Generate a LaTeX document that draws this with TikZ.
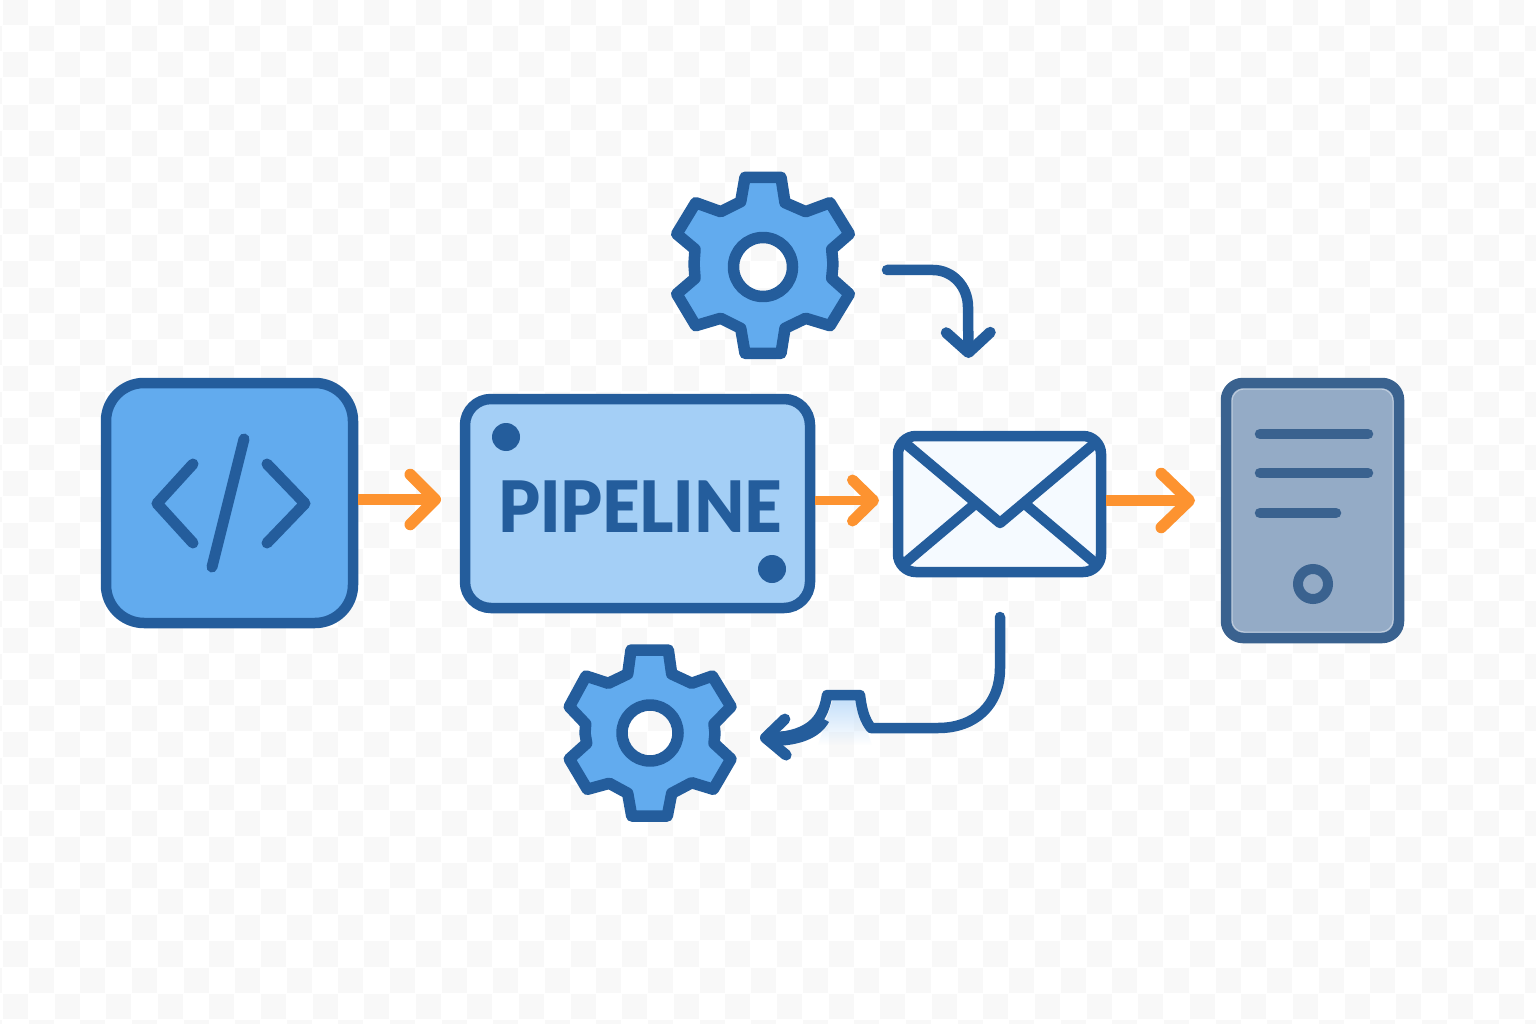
\documentclass[tikz,border=0pt]{standalone}
\usepackage{fontspec}
\newfontfamily\platefont{Lato Black}
\usetikzlibrary{arrows.meta,fadings}
\definecolor{ink}{HTML}{245D9C}
\definecolor{sky}{HTML}{62ABEE}
\definecolor{pale}{HTML}{A4CFF6}
\definecolor{paper}{HTML}{F5FAFF}
\definecolor{slate}{HTML}{3A628F}
\definecolor{mist}{HTML}{94ABC6}
\definecolor{flow}{HTML}{FD9330}
\definecolor{tile}{HTML}{F8F8F8}
\definecolor{glow}{HTML}{C4DFFA}
\definecolor{rim}{HTML}{BFCDDE}
\tikzset{
  box/.style={draw=ink,line width=10.5pt,inner sep=0pt},
  glyph/.style={draw=ink,line width=11pt,line cap=round,line join=round},
  cog/.style={draw=ink,line width=11.5pt,line join=round,fill=sky,even odd rule},
  hub/.style={draw=ink,line width=10pt},
  rack/.style={draw=slate,line width=10.5pt,line cap=round},
  orangeflow/.style={draw=flow,line width=10.5pt,line join=round},
  blueflow/.style={draw=ink,line width=10.5pt,line cap=round,line join=round},
  marker/.style={circle,fill=ink,inner sep=0pt,minimum size=28pt},
}
\begin{document}
\begin{tikzpicture}[x=1pt,y=-1pt]
\useasboundingbox (0,0) rectangle (1536,1024);
\fill[white] (0,0) rectangle (1536,1024);
% checker background
\foreach \j in {0,...,39}{
  \foreach \i in {-1,...,60}{
    \pgfmathparse{int(mod(\i+\j+2,2))}
    \ifnum\pgfmathresult=0
      \fill[tile] ({3+25.8*\i},{26.15*\j}) rectangle ++(25,25.2);
    \fi
  }
}
% named end points
\coordinate (tipA) at (441,499.5);
\coordinate (tipB) at (879,500.5);
\coordinate (tipC) at (1195,500.5);
\coordinate (tipD) at (968.5,358);
\coordinate (tipE) at (760,738);
\coordinate (startD) at (887,270);
\coordinate (startE) at (1000,617);
\node[box,minimum width=247pt,minimum height=240pt,rounded corners=38pt,fill=sky] (code) at (229.5,503) {};
\node[box,minimum width=345pt,minimum height=209pt,rounded corners=26pt,fill=pale] (pipe) at (637.5,503.5) {};
\node[box,minimum width=203pt,minimum height=136pt,rounded corners=18pt,fill=paper] (mail) at (999.5,504) {};
\node[box,draw=slate,minimum width=173pt,minimum height=255pt,rounded corners=17pt,fill=mist] (server) at (1312.5,510.5) {};
\draw[rim,line width=1pt,rounded corners=12pt] (1232,389) rectangle (1393,632);
\draw[orangeflow,-{Straight Barb[round,line width=11.5pt,length=25pt,width=50pt]}] (code.east |- tipA) -- (tipA);
\draw[orangeflow,-{Straight Barb[round,line width=11pt,length=21pt,width=41pt]},line width=9.5pt] (pipe.east |- tipB) -- (tipB);
\draw[orangeflow,-{Straight Barb[round,line width=11.5pt,length=28pt,width=54pt]}] (mail.east |- tipC) -- (tipC);
% code icon
\draw[glyph] (193,464) -- (157,503.5) -- (193,543);
\draw[glyph] (267,464) -- (305,503.5) -- (267,543);
\draw[glyph] (244,439) -- (212,567);
% pipeline plate
\node[marker] (dotA) at (506,437) {};
\node[marker] (dotB) at (772,569) {};
\node[text=ink,font=\platefont\fontsize{71}{71}\selectfont,inner sep=0pt] (label) at (640.5,507) {\scalebox{0.92}[1]{PIPELINE}};
% envelope
\draw[glyph,line width=10.5pt] (906,444) -- (1000,523) -- (1094,444);
\draw[glyph,line width=10.5pt] (975,504) -- (905,563);
\draw[glyph,line width=10.5pt] (1025,504) -- (1095,563);
% server
\draw[rack] (1260,434) -- (1368,434);
\draw[rack] (1260,473) -- (1368,473);
\draw[rack] (1260,513) -- (1336,513);
\node[circle,draw=slate,line width=10pt,fill=mist,minimum size=30pt,inner sep=0pt] (led) at (1313,584) {};
% top gear
\path[cog] (745,177.3) -- (781,177.3) -- (785,202.7) -- (805.7,211.7) -- (830,202.7) -- (849.3,234) -- (831.7,249.3) -- (833,264) -- (831.7,278.3) -- (849.3,294) -- (830,325.7) -- (805.7,318.3) -- (785,328.3) -- (781,353.3) -- (745,353.3) -- (740.7,328.3) -- (720.7,318.3) -- (695.7,325.7) -- (676.7,294) -- (695,278.3) -- (694,264) -- (695,249.3) -- (676.7,234) -- (695.7,202.7) -- (720.7,211.7) -- (740.7,201.7) -- cycle (763,267) circle[radius=29.5];
\node[circle,inner sep=0pt,minimum size=59pt,hub] (gearA) at (763,267) {};
% bottom gear
\path[cog] (631,650) -- (668.3,650) -- (671.7,674) -- (691.7,683.3) -- (712.3,676) -- (731,706.7) -- (714,724) -- (715,733.3) -- (714,743.3) -- (731,759) -- (713.3,789.3) -- (691.7,782.7) -- (671.7,793.3) -- (667.3,816) -- (631.7,816) -- (627.7,793.3) -- (609.3,783.3) -- (587.3,789.3) -- (569.3,759) -- (586.7,743.3) -- (585,733.3) -- (585.7,724) -- (569.3,706.7) -- (586,676) -- (608.3,683.3) -- (627.7,674) -- cycle (650,733) circle[radius=28];
\node[circle,inner sep=0pt,minimum size=56pt,hub] (gearB) at (650,733) {};
% blue connectors
\draw[blueflow,-{Straight Barb[round,line width=11pt,length=20pt,width=44pt]}] (startD) -- (933,270) .. controls (953,270) and (968,287) .. (968,307) -- (tipD);
\fill[glow,path fading=south] (833,699) -- (856,699) -- (872,745) -- (818,745) -- cycle;
\fill[ink] (822,718) .. controls (812,729) and (795,731) .. (772,732) -- (772,746) .. controls (800,746) and (820,738) .. (829,722) -- cycle;
\draw[blueflow,-{Straight Barb[round,line width=11pt,length=20pt,width=36pt]}] (startE) -- (1000,668) .. controls (1000,705) and (975,728) .. (938,728) -- (871,728) .. controls (865,720) and (862,712) .. (860,695) -- (827,695) .. controls (824,715) and (815,736) .. (tipE);
\end{tikzpicture}
\end{document}
